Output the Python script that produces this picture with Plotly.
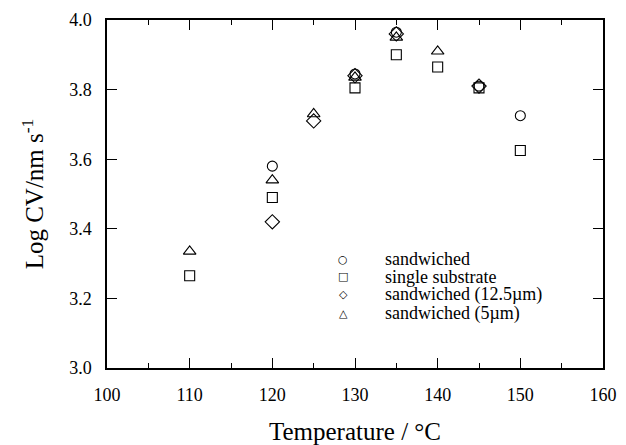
import plotly.graph_objects as go

# Data
sand_x = [120, 130, 135, 145, 150]
sand_y = [3.58, 3.845, 3.965, 3.81, 3.725]

single_x = [110, 120, 130, 135, 140, 145, 150]
single_y = [3.265, 3.49, 3.805, 3.90, 3.865, 3.805, 3.625]

s125_x = [120, 125, 130, 135, 145]
s125_y = [3.42, 3.71, 3.84, 3.96, 3.81]

s5_x = [110, 120, 125, 130, 135, 140]
s5_y = [3.335, 3.54, 3.73, 3.835, 3.95, 3.91]

series_names = ["sandwiched", "single substrate", "sandwiched (12.5µm)", "sandwiched (5µm)"]
legend_glyphs = ["○", "□", "◇", "△"]

series = [
    (series_names[0], sand_x, sand_y, "circle-open", 10),
    (series_names[1], single_x, single_y, "square-open", 10),
    (series_names[2], s125_x, s125_y, "diamond-open", 11),
    (series_names[3], s5_x, s5_y, "triangle-up-open", 11),
]

fig = go.Figure()
for name, xs, ys, sym, sz in series:
    fig.add_trace(go.Scatter(
        x=xs, y=ys, mode="markers", name=name, showlegend=False,
        marker=dict(symbol=sym, size=sz, color="black", line=dict(width=1.1, color="black")),
    ))

font = "Liberation Serif, Times New Roman, serif"
axis_common = dict(
    showline=True, linecolor="black", linewidth=1.5, mirror="ticks",
    ticks="inside", ticklen=10, tickwidth=1.3, tickcolor="black",
    showgrid=False, zeroline=False, ticklabelstandoff=10, automargin=False,
    tickfont=dict(family=font, size=18, color="black"),
)
fig.update_xaxes(
    range=[100, 160], dtick=10, tick0=100,
    minor=dict(dtick=5, ticks="inside", ticklen=5, tickcolor="black", tickwidth=1.2),
    title=dict(text="Temperature / °C", font=dict(family=font, size=25, color="black"), standoff=20),
    **axis_common,
)
fig.update_yaxes(
    range=[3.0, 4.0], dtick=0.2, tick0=3.0, tickformat=".1f",
    title=dict(text="Log CV/nm s<sup>-1</sup>", font=dict(family=font, size=25, color="black"), standoff=18),
    **axis_common,
)

# Legend drawn as text rows (tight row spacing as in the reference)
row_y = [0.3132, 0.2615, 0.2098, 0.1580]
for glyph, name, yy in zip(legend_glyphs, series_names, row_y):
    fig.add_annotation(x=0.476, y=yy, xref="paper", yref="paper", text=glyph,
                       showarrow=False, xanchor="center", yanchor="middle",
                       font=dict(family="DejaVu Sans", size=11, color="black"))
    fig.add_annotation(x=0.5565, y=yy, xref="paper", yref="paper", text=name,
                       showarrow=False, xanchor="left", yanchor="middle",
                       font=dict(family=font, size=18, color="black"))

fig.update_layout(
    width=626, height=445,
    margin=dict(l=107, r=23, t=20, b=77),
    paper_bgcolor="white", plot_bgcolor="white",
    font=dict(family=font, color="black"),
    showlegend=False,
)
fig.write_html("out.html", config={"displayModeBar": False},
               post_script="document.body.style.margin='0px';")
